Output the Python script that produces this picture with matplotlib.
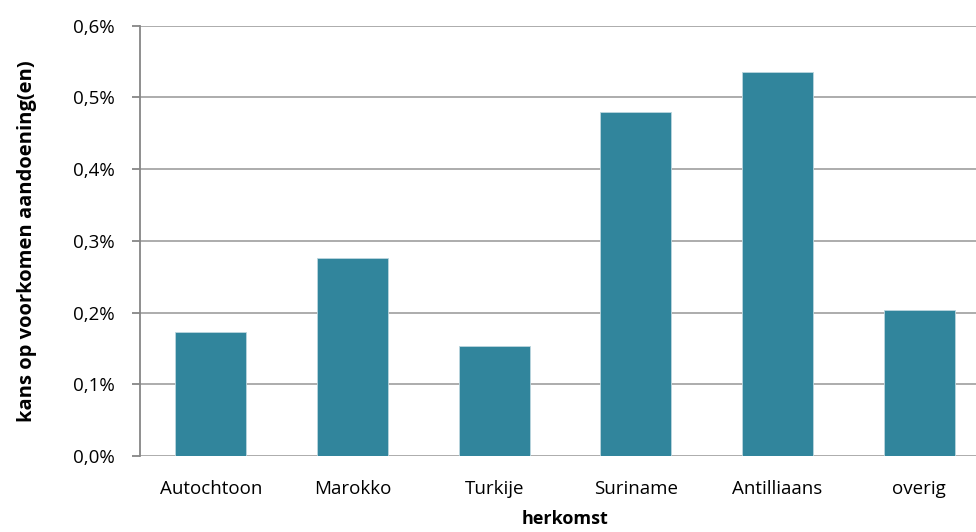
import matplotlib
matplotlib.use('Agg')
import matplotlib.pyplot as plt
from matplotlib.ticker import FuncFormatter

categories = ['Autochtoon', 'Marokko', 'Turkije', 'Suriname', 'Antilliaans', 'overig']
kans = [0.173, 0.276, 0.153, 0.479, 0.535, 0.204]   # in %
yticks = [0.0, 0.1, 0.2, 0.3, 0.4, 0.5, 0.6]

plt.rcParams['font.family'] = ['Open Sans', 'DejaVu Sans']

fig = plt.figure(figsize=(9.76, 5.32), dpi=100)
# axes runs a bit past the right edge, like the original (clipped) chart
ax = fig.add_axes([140/976, 1-456/532, 850/976, (456-25.7)/532])

x = range(len(categories))
ax.bar(x, kans, width=0.5, color='#31859c', edgecolor='#bcd6de', linewidth=0.6, zorder=3)

ax.set_xlim(-0.5, len(categories) - 0.5)
ax.set_ylim(0, 0.6)
ax.set_yticks(yticks)
ax.yaxis.set_major_formatter(FuncFormatter(lambda v, p: ('%.1f%%' % v).replace('.', ',')))
ax.set_xticks(list(x))
ax.set_xticklabels(categories)

ax.grid(axis='y', color='#a6a6a6', linewidth=1.3, zorder=0)
for s in ['top', 'right', 'bottom']:
    ax.spines[s].set_visible(False)
ax.spines['left'].set_color('#868686')
ax.spines['left'].set_linewidth(1.3)
ax.tick_params(axis='y', length=6, width=1.3, color='#868686', labelsize=13.5, pad=12)
ax.tick_params(axis='x', length=0, labelsize=13.5, pad=17)

ax.set_xlabel('herkomst', fontsize=13, fontweight='bold', labelpad=9)
ax.set_ylabel('kans op voorkomen aandoening(en)', fontsize=14.5, fontweight='bold', labelpad=26)

fig.savefig('out.png', dpi=100)
